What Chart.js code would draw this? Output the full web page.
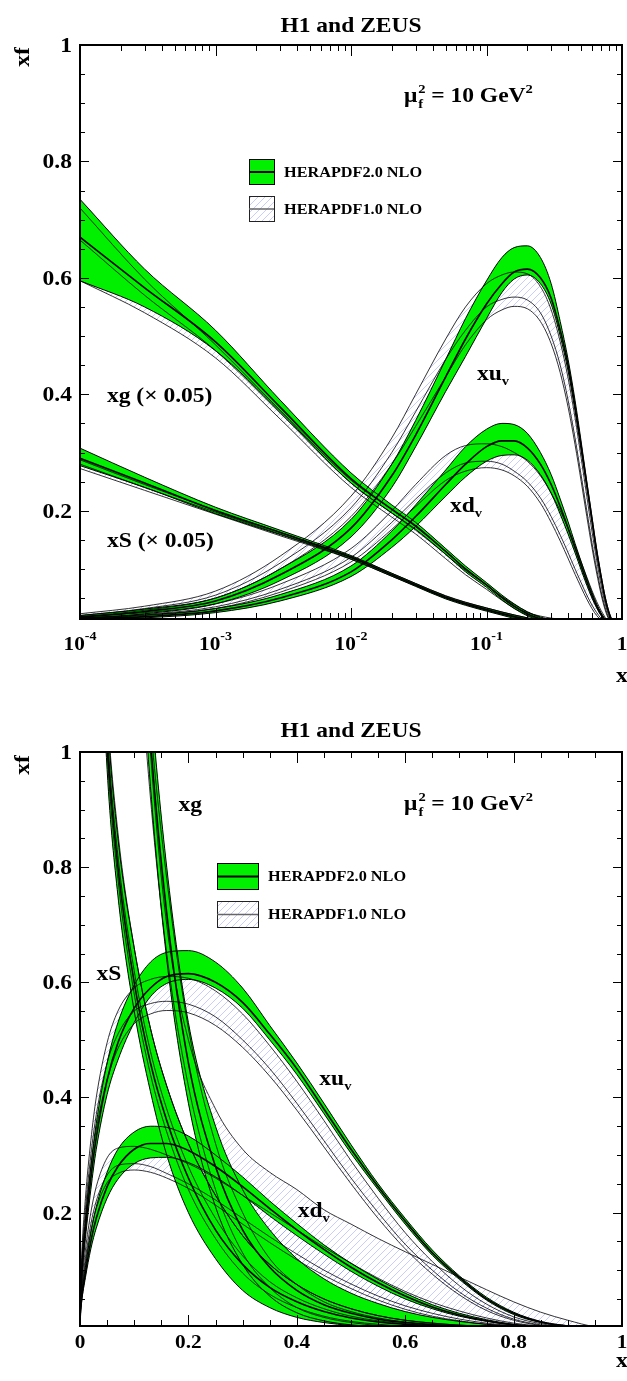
<!DOCTYPE html>
<html>
<head>
<meta charset="utf-8">
<script src="https://cdn.jsdelivr.net/npm/chart.js@4.4.0/dist/chart.umd.min.js"></script>
<style>
body { margin: 0; background: #fff; }
#wrap { position: relative; width: 627px; height: 1381px; }
canvas { position: absolute; left: 0; }
</style>
</head>
<body>
<div id="wrap">
<canvas id="logChart" width="627" height="690" style="top:0px"></canvas>
<canvas id="linChart" width="627" height="691" style="top:690px"></canvas>
</div>
<script>
var xGrid = [0.0001, 0.0003, 0.001, 0.003, 0.01, 0.02, 0.03, 0.05, 0.07, 0.1, 0.13, 0.16, 0.2, 0.25, 0.3, 0.35, 0.4, 0.45, 0.5, 0.55, 0.6, 0.65, 0.7, 0.75, 0.8, 0.85, 0.9, 0.95, 1.0];

// HERAPDF2.0 NLO (green bands)
var xuvHi20  = [0.02, 0.031, 0.05, 0.1, 0.185, 0.28, 0.355, 0.46, 0.53, 0.595, 0.635, 0.652, 0.655, 0.635, 0.59, 0.525, 0.46, 0.39, 0.318, 0.25, 0.19, 0.135, 0.09, 0.053, 0.027, 0.011, 0.0035, 0.0006, 0];
var xuvMid20 = [0.017, 0.027, 0.045, 0.09, 0.17, 0.26, 0.33, 0.43, 0.495, 0.555, 0.59, 0.61, 0.615, 0.6, 0.565, 0.51, 0.45, 0.38, 0.31, 0.245, 0.185, 0.13, 0.087, 0.05, 0.025, 0.01, 0.003, 0.0005, 0];
var xuvLo20  = [0.014, 0.023, 0.04, 0.08, 0.155, 0.24, 0.31, 0.405, 0.465, 0.53, 0.575, 0.598, 0.605, 0.59, 0.555, 0.5, 0.44, 0.372, 0.303, 0.24, 0.18, 0.126, 0.084, 0.048, 0.023, 0.009, 0.0025, 0.0004, 0];
var xdvHi20  = [0.016, 0.021, 0.032, 0.056, 0.105, 0.165, 0.21, 0.27, 0.31, 0.34, 0.35, 0.348, 0.333, 0.3, 0.262, 0.22, 0.181, 0.144, 0.112, 0.084, 0.06, 0.04, 0.025, 0.014, 0.006, 0.0025, 0.0006, 0, 0];
var xdvMid20 = [0.014, 0.018, 0.028, 0.05, 0.095, 0.15, 0.19, 0.245, 0.28, 0.31, 0.32, 0.32, 0.308, 0.28, 0.245, 0.207, 0.17, 0.136, 0.105, 0.078, 0.055, 0.036, 0.022, 0.012, 0.005, 0.002, 0.0005, 0, 0];
var xdvLo20  = [0.012, 0.016, 0.025, 0.045, 0.087, 0.137, 0.173, 0.225, 0.258, 0.285, 0.295, 0.296, 0.287, 0.262, 0.23, 0.194, 0.16, 0.128, 0.098, 0.072, 0.05, 0.033, 0.02, 0.011, 0.0045, 0.0015, 0.0004, 0, 0];
var xgHi20   = [14.7, 12.3, 10.2, 7.8, 5.3, 4.2, 3.6, 2.7, 2.1, 1.53, 1.1, 0.8, 0.53, 0.35, 0.24, 0.17, 0.12, 0.085, 0.06, 0.042, 0.028, 0.018, 0.011, 0.006, 0.003, 0.0012, 0.0004, 0.0001, 0];
var xgMid20  = [13.4, 11.66, 9.8, 7.56, 5.1, 4.05, 3.48, 2.6, 2.0, 1.45, 1.02, 0.72, 0.46, 0.28, 0.17, 0.105, 0.065, 0.04, 0.025, 0.015, 0.009, 0.005, 0.003, 0.0015, 0.0007, 0.0003, 0.0001, 0, 0];
var xgLo20   = [11.9, 11.0, 9.5, 7.4, 4.95, 3.92, 3.36, 2.5, 1.9, 1.37, 0.94, 0.64, 0.39, 0.21, 0.11, 0.055, 0.026, 0.012, 0.005, 0.002, 0.001, 0.0004, 0.0001, 0, 0, 0, 0, 0, 0];
var xsHi20   = [6.15, 5.15, 4.12, 3.33, 2.46, 1.85, 1.5, 1.07, 0.85, 0.66, 0.52, 0.42, 0.32, 0.23, 0.16, 0.11, 0.075, 0.05, 0.033, 0.021, 0.013, 0.008, 0.0045, 0.0025, 0.0012, 0.0005, 0.0001, 0, 0];
var xsMid20  = [5.8, 4.95, 4.0, 3.25, 2.4, 1.8, 1.45, 1.02, 0.8, 0.6, 0.46, 0.36, 0.26, 0.17, 0.11, 0.07, 0.045, 0.028, 0.017, 0.01, 0.006, 0.003, 0.0015, 0.0007, 0.0003, 0.0001, 0, 0, 0];
var xsLo20   = [5.55, 4.8, 3.9, 3.18, 2.34, 1.75, 1.4, 0.97, 0.75, 0.55, 0.41, 0.3, 0.2, 0.12, 0.065, 0.035, 0.018, 0.009, 0.004, 0.002, 0.001, 0.0004, 0.0001, 0, 0, 0, 0, 0, 0];

// HERAPDF1.0 NLO (hatched bands)
var xuvHi10  = [0.023, 0.036, 0.062, 0.122, 0.225, 0.325, 0.4, 0.495, 0.55, 0.59, 0.605, 0.61, 0.607, 0.585, 0.545, 0.49, 0.428, 0.36, 0.29, 0.225, 0.165, 0.115, 0.073, 0.041, 0.019, 0.007, 0.0015, 0, 0];
var xuvMid10 = [0.02, 0.032, 0.055, 0.11, 0.205, 0.3, 0.37, 0.46, 0.51, 0.55, 0.563, 0.567, 0.562, 0.54, 0.5, 0.45, 0.39, 0.325, 0.26, 0.2, 0.145, 0.1, 0.062, 0.034, 0.015, 0.005, 0.001, 0, 0];
var xuvLo10  = [0.018, 0.029, 0.05, 0.1, 0.19, 0.28, 0.345, 0.43, 0.485, 0.528, 0.545, 0.551, 0.547, 0.525, 0.487, 0.437, 0.378, 0.314, 0.25, 0.19, 0.137, 0.093, 0.057, 0.03, 0.013, 0.004, 0.0008, 0, 0];
var xdvHi10  = [0.018, 0.025, 0.04, 0.074, 0.135, 0.2, 0.245, 0.295, 0.312, 0.315, 0.31, 0.3, 0.285, 0.26, 0.23, 0.2, 0.17, 0.14, 0.112, 0.086, 0.063, 0.044, 0.029, 0.017, 0.008, 0.003, 0.001, 0, 0];
var xdvMid10 = [0.016, 0.022, 0.035, 0.065, 0.12, 0.18, 0.22, 0.265, 0.282, 0.285, 0.28, 0.268, 0.25, 0.222, 0.19, 0.158, 0.128, 0.1, 0.076, 0.055, 0.038, 0.025, 0.015, 0.008, 0.0035, 0.001, 0, 0, 0];
var xdvLo10  = [0.015, 0.02, 0.032, 0.06, 0.112, 0.168, 0.207, 0.252, 0.268, 0.274, 0.27, 0.26, 0.242, 0.213, 0.18, 0.148, 0.118, 0.091, 0.068, 0.048, 0.032, 0.02, 0.012, 0.006, 0.0025, 0.0008, 0, 0, 0];
var xgHi10   = [14.4, 11.95, 9.7, 7.45, 5.05, 4.05, 3.45, 2.6, 2.0, 1.45, 1.0, 0.7, 0.5, 0.38, 0.31, 0.27, 0.24, 0.205, 0.18, 0.155, 0.132, 0.11, 0.088, 0.066, 0.045, 0.027, 0.013, 0.002, 0];
var xgMid10  = [13.3, 11.4, 9.5, 7.35, 4.95, 3.92, 3.33, 2.5, 1.95, 1.45, 1.05, 0.78, 0.52, 0.32, 0.2, 0.12, 0.075, 0.045, 0.028, 0.017, 0.01, 0.006, 0.0035, 0.002, 0.001, 0.0004, 0.0001, 0, 0];
var xgLo10   = [11.9, 10.8, 9.25, 7.15, 4.8, 3.78, 3.2, 2.35, 1.8, 1.3, 0.92, 0.65, 0.42, 0.24, 0.13, 0.07, 0.035, 0.018, 0.009, 0.004, 0.002, 0.001, 0, 0, 0, 0, 0, 0, 0];
var xsHi10   = [5.75, 4.9, 4.02, 3.26, 2.43, 1.85, 1.5, 1.08, 0.86, 0.66, 0.52, 0.42, 0.32, 0.23, 0.16, 0.11, 0.075, 0.05, 0.033, 0.021, 0.013, 0.008, 0.0045, 0.0025, 0.0012, 0.0005, 0.0001, 0, 0];
var xsMid10  = [5.6, 4.8, 3.95, 3.2, 2.38, 1.8, 1.46, 1.04, 0.82, 0.62, 0.48, 0.38, 0.28, 0.19, 0.125, 0.08, 0.052, 0.033, 0.02, 0.012, 0.007, 0.004, 0.002, 0.001, 0.0004, 0.0001, 0, 0, 0];
var xsLo10   = [5.45, 4.7, 3.88, 3.14, 2.33, 1.75, 1.42, 1.0, 0.78, 0.58, 0.44, 0.34, 0.24, 0.155, 0.095, 0.058, 0.035, 0.02, 0.011, 0.006, 0.003, 0.0015, 0.0006, 0.0002, 0, 0, 0, 0, 0];

// axis ticks and labels
var yMajorTicks = [0.2, 0.4, 0.6, 0.8, 1];
var yMajorLabels = ['0.2', '0.4', '0.6', '0.8', '1'];
var logMajorTicks = [0.0001, 0.001, 0.01, 0.1, 1];
var logMajorLabels = [['10', '-4'], ['10', '-3'], ['10', '-2'], ['10', '-1'], ['1', '']];
var linMajorTicks = [0, 0.2, 0.4, 0.6, 0.8, 1];
var linMajorLabels = ['0', '0.2', '0.4', '0.6', '0.8', '1'];

var titleText = 'H1 and ZEUS';
var legendNames = ['HERAPDF2.0 NLO', 'HERAPDF1.0 NLO'];
var glueScale = 0.05; // xg and xS are scaled in the log panel

var GREEN = '#00f000';
var SERIF = '"Liberation Serif", "Times New Roman", serif';
var SX = 1.12; // the text in the picture is a bit wide

function hatch() {
  var c = document.createElement('canvas');
  c.width = 7; c.height = 7;
  var g = c.getContext('2d');
  g.strokeStyle = 'rgba(110,120,255,0.55)';
  g.lineWidth = 0.7;
  g.beginPath();
  g.moveTo(-1, 8); g.lineTo(8, -1);
  g.moveTo(-1, 1); g.lineTo(1, -1);
  g.moveTo(6, 8); g.lineTo(8, 6);
  g.stroke();
  return document.getElementById('logChart').getContext('2d').createPattern(c, 'repeat');
}
var HATCH = hatch();

function pts(arr, f) {
  return xGrid.map(function(x, i) { return { x: x, y: arr[i] * f }; });
}

function buildSets(gf) {
  var sets = [];
  function band(hi, lo, f, style, ord) {
    var lo_i = sets.length + 1;
    sets.push({ data: pts(hi, f), fill: { target: lo_i, above: style, below: style },
      borderColor: 'rgba(0,0,0,0)', borderWidth: 0, order: ord });
    sets.push({ data: pts(lo, f), fill: false, borderColor: 'rgba(0,0,0,0)', borderWidth: 0, order: ord });
  }
  function line(arr, f, w) {
    sets.push({ data: pts(arr, f), fill: false, borderColor: '#000', borderWidth: w, order: 0 });
  }
  // hatched bands first (drawn underneath), then green
  band(xuvHi10, xuvLo10, 1, HATCH, 2);
  band(xdvHi10, xdvLo10, 1, HATCH, 2);
  band(xgHi10, xgLo10, gf, HATCH, 2);
  band(xsHi10, xsLo10, gf, HATCH, 2);
  band(xuvHi20, xuvLo20, 1, GREEN, 1);
  band(xdvHi20, xdvLo20, 1, GREEN, 1);
  band(xgHi20, xgLo20, gf, GREEN, 1);
  band(xsHi20, xsLo20, gf, GREEN, 1);
  [[xuvHi10, xuvMid10, xuvLo10, 1], [xdvHi10, xdvMid10, xdvLo10, 1],
   [xgHi10, xgMid10, xgLo10, gf], [xsHi10, xsMid10, xsLo10, gf]].forEach(function(p) {
    line(p[0], p[3], 0.8); line(p[1], p[3], 0.8); line(p[2], p[3], 0.8);
  });
  [[xuvHi20, xuvMid20, xuvLo20, 1], [xdvHi20, xdvMid20, xdvLo20, 1],
   [xgHi20, xgMid20, xgLo20, gf], [xsHi20, xsMid20, xsLo20, gf]].forEach(function(p) {
    line(p[0], p[3], 1); line(p[1], p[3], 1.6); line(p[2], p[3], 1);
  });
  return sets;
}

// draw a run of text pieces: [text, size, dy]
function rich(ctx, parts, x, y, align) {
  var w = 0;
  parts.forEach(function(p) {
    ctx.font = 'bold ' + p[1] + 'px ' + SERIF;
    p.w = ctx.measureText(p[0]).width * SX;
    w += p.w;
  });
  var cx = align === 'center' ? x - w / 2 : (align === 'right' ? x - w : x);
  ctx.textAlign = 'left';
  ctx.textBaseline = 'alphabetic';
  parts.forEach(function(p) {
    ctx.font = 'bold ' + p[1] + 'px ' + SERIF;
    ctx.save();
    ctx.translate(cx, y + (p[2] || 0));
    ctx.scale(SX, 1);
    ctx.fillText(p[0], 0, 0);
    ctx.restore();
    cx += p.w;
  });
}

function muLabel(ctx, x, y) {
  rich(ctx, [['\u03bc', 21]], x, y, 'left');
  ctx.font = 'bold 21px ' + SERIF;
  var w = ctx.measureText('\u03bc').width * SX;
  rich(ctx, [['2', 13, -9]], x + w + 1, y, 'left');
  rich(ctx, [['f', 13, 6]], x + w + 1, y, 'left');
  rich(ctx, [[' = 10 GeV', 21], ['2', 13, -9]], x + w + 8, y, 'left');
}

var decor = {
  id: 'decor',
  afterDatasetsDraw: function(chart, args, o) {
    var ctx = chart.ctx, a = chart.chartArea, xs = chart.scales.x, ys = chart.scales.y;
    ctx.save();
    ctx.fillStyle = '#000';
    ctx.strokeStyle = '#000';
    ctx.lineWidth = 1;
    ctx.beginPath();
    // y ticks: majors every 0.2, minors every 0.05
    for (var k = 1; k <= 20; k++) {
      var v = k * 0.05;
      if (v < ys.min) continue;
      var py = Math.round(ys.getPixelForValue(v)) + 0.5;
      var L = (k % 4 === 0) ? 9 : 5;
      ctx.moveTo(a.left, py); ctx.lineTo(a.left + L, py);
      ctx.moveTo(a.right, py); ctx.lineTo(a.right - L, py);
    }
    // x ticks
    o.xTicks.forEach(function(t) {
      var px = Math.round(xs.getPixelForValue(t[0])) + 0.5;
      var L = t[1] ? 11 : 6;
      ctx.moveTo(px, a.bottom); ctx.lineTo(px, a.bottom - L);
      ctx.moveTo(px, a.top); ctx.lineTo(px, a.top + L);
    });
    ctx.stroke();
    ctx.lineWidth = 2;
    ctx.strokeRect(a.left, a.top, a.right - a.left, a.bottom - a.top);

    // y tick labels
    yMajorTicks.forEach(function(v, i) {
      var py = ys.getPixelForValue(v);
      rich(ctx, [[yMajorLabels[i], 21]], a.left - 8, py + 7, 'right');
    });
    // x tick labels
    if (o.log) {
      logMajorTicks.forEach(function(v, i) {
        var px = xs.getPixelForValue(v);
        var lb = logMajorLabels[i];
        rich(ctx, [[lb[0], 19], [lb[1], 12.5, -10]], px, a.bottom + 31, 'center');
      });
    } else {
      linMajorTicks.forEach(function(v, i) {
        var px = xs.getPixelForValue(v);
        rich(ctx, [[linMajorLabels[i], 19]], px, a.bottom + 22, 'center');
      });
    }
    // titles
    rich(ctx, [[titleText, 21]], (a.left + a.right) / 2, a.top - o.titleGap, 'center');
    rich(ctx, [['x', 21]], a.right, a.bottom + o.xTitleGap, 'center');
    ctx.save();
    ctx.translate(29, a.top + o.yTitleShift);
    ctx.rotate(-Math.PI / 2);
    rich(ctx, [['xf', 21]], 0, 0, 'center');
    ctx.restore();

    // curve labels, placed in data coordinates
    o.labels.forEach(function(l) {
      var px = xs.getPixelForValue(l.x), py = ys.getPixelForValue(l.y);
      var parts = [[l.t, 21]];
      if (l.sub) parts.push([l.sub, 13, 5]);
      rich(ctx, parts, px, py, 'left');
    });
    muLabel(ctx, xs.getPixelForValue(o.mu[0]), ys.getPixelForValue(o.mu[1]));

    // legend
    var lg = o.legend;
    var bx = lg.x, by = lg.y;
    ctx.fillStyle = GREEN;
    ctx.fillRect(bx, by, lg.w, lg.h);
    ctx.lineWidth = 1;
    ctx.strokeStyle = '#000';
    ctx.strokeRect(bx + 0.5, by + 0.5, lg.w, lg.h);
    ctx.lineWidth = 2;
    ctx.beginPath(); ctx.moveTo(bx, by + lg.h / 2 + 0.5); ctx.lineTo(bx + lg.w, by + lg.h / 2 + 0.5); ctx.stroke();
    var by2 = by + lg.gap;
    ctx.fillStyle = '#fff';
    ctx.fillRect(bx, by2, lg.w, lg.h);
    ctx.fillStyle = HATCH;
    ctx.fillRect(bx, by2, lg.w, lg.h);
    ctx.lineWidth = 1;
    ctx.strokeStyle = '#222';
    ctx.strokeRect(bx + 0.5, by2 + 0.5, lg.w, lg.h);
    ctx.strokeStyle = '#666';
    ctx.lineWidth = 1.5;
    ctx.beginPath(); ctx.moveTo(bx, by2 + lg.h / 2 + 0.5); ctx.lineTo(bx + lg.w, by2 + lg.h / 2 + 0.5); ctx.stroke();
    ctx.fillStyle = '#000';
    rich(ctx, [[legendNames[0], 14.5]], bx + lg.w + 10, by + lg.h / 2 + 5, 'left');
    rich(ctx, [[legendNames[1], 14.5]], bx + lg.w + 10, by2 + lg.h / 2 + 5, 'left');
    ctx.restore();
  }
};

function logTickList() {
  var t = [];
  for (var d = -4; d < 0; d++) {
    for (var m = 1; m <= 9; m++) t.push([m * Math.pow(10, d), m === 1]);
  }
  t.push([1, true]);
  return t;
}
function linTickList() {
  var t = [];
  for (var k = 0; k <= 20; k++) t.push([k * 0.05, k % 4 === 0]);
  return t;
}

function makeChart(id, log, yMin, pad, deco, gf) {
  return new Chart(document.getElementById(id), {
    type: 'line',
    data: { datasets: buildSets(gf) },
    options: {
      responsive: false,
      animation: false,
      devicePixelRatio: 1,
      parsing: false,
      layout: { padding: pad, autoPadding: false },
      elements: { point: { radius: 0 }, line: { cubicInterpolationMode: 'monotone' } },
      scales: {
        x: { type: log ? 'logarithmic' : 'linear', min: log ? 0.0001 : 0, max: 1,
             ticks: { display: false }, grid: { display: false }, border: { display: false },
             afterFit: function(s) { s.height = 0; } },
        y: { type: 'linear', min: yMin, max: 1,
             ticks: { display: false }, grid: { display: false }, border: { display: false },
             afterFit: function(s) { s.width = 0; } }
      },
      plugins: {
        legend: { display: false },
        tooltip: { enabled: false },
        filler: { drawTime: 'beforeDatasetsDraw' },
        decor: deco
      }
    },
    plugins: [decor]
  });
}

makeChart('logChart', true, 0.014, { left: 80, right: 5, top: 45, bottom: 71 }, {
  log: true,
  xTicks: logTickList(),
  titleGap: 13, xTitleGap: 63, yTitleShift: 12,
  labels: [
    { t: 'xg (\u00d7 0.05)', x: 0.000158, y: 0.387 },
    { t: 'xS (\u00d7 0.05)', x: 0.000158, y: 0.138 },
    { t: 'xu', sub: 'v', x: 0.085, y: 0.425 },
    { t: 'xd', sub: 'v', x: 0.0538, y: 0.198 }
  ],
  mu: [0.0246, 0.902],
  legend: { x: 249, y: 159, w: 25, h: 25, gap: 37 }
}, glueScale);

makeChart('linChart', false, 0.003, { left: 80, right: 5, top: 62, bottom: 55 }, {
  log: false,
  xTicks: linTickList(),
  titleGap: 15, xTitleGap: 41, yTitleShift: 13,
  labels: [
    { t: 'xg', x: 0.1816, y: 0.8975 },
    { t: 'xS', x: 0.0304, y: 0.604 },
    { t: 'xu', sub: 'v', x: 0.4415, y: 0.4216 },
    { t: 'xd', sub: 'v', x: 0.4018, y: 0.1923 }
  ],
  mu: [0.598, 0.899],
  legend: { x: 217, y: 173, w: 41, h: 26, gap: 38 }
}, 1);
</script>
</body>
</html>
